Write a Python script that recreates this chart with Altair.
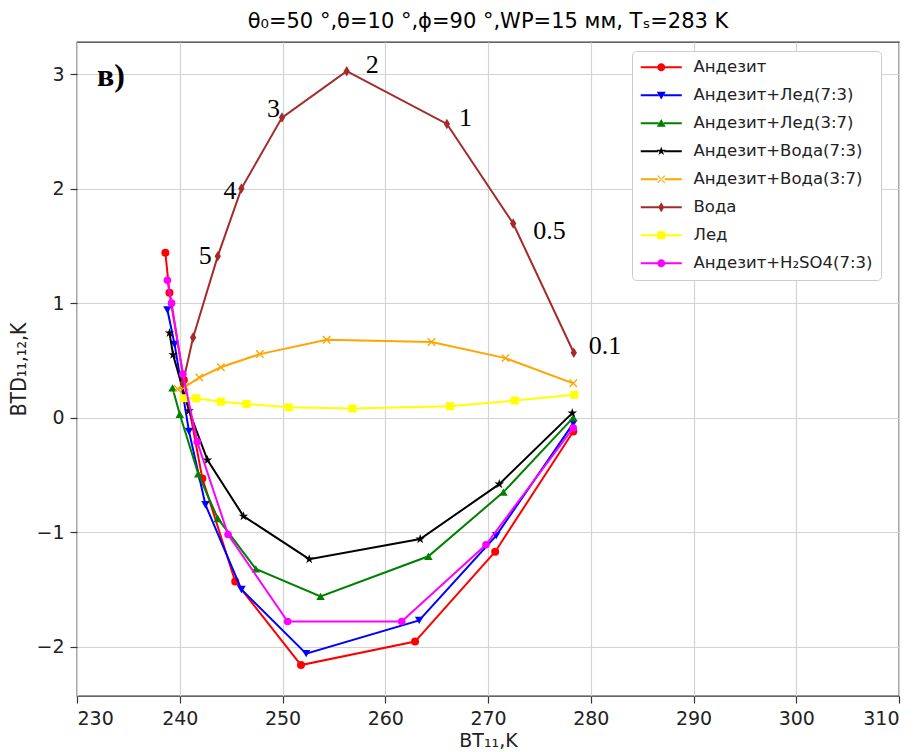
import altair as alt
import pandas as pd

# ---------------- data ----------------
series_names = ["Андезит", "Андезит+Лед(7:3)", "Андезит+Лед(3:7)", "Андезит+Вода(7:3)",
                "Андезит+Вода(3:7)", "Вода", "Лед", "Андезит+H₂SO4(7:3)"]
series_colors = ["#ff0000", "#0000ff", "#008000", "#000000",
                 "#ffa500", "#a52a2a", "#ffff00", "#ff00ff"]

bt_andesite = [238.6, 239.0, 240.4, 242.2, 245.4, 251.8, 262.9, 270.7, 278.3]
btd_andesite = [1.44, 1.09, 0.33, -0.53, -1.43, -2.16, -1.955, -1.17, -0.12]
bt_and_ice73 = [238.8, 239.5, 240.9, 242.5, 246.0, 252.3, 263.3, 270.8, 278.3]
btd_and_ice73 = [0.94, 0.64, -0.12, -0.76, -1.50, -2.06, -1.77, -1.03, -0.05]
bt_and_ice37 = [239.3, 240.0, 241.8, 243.7, 247.4, 253.7, 264.2, 271.5, 278.3]
btd_and_ice37 = [0.26, 0.03, -0.49, -0.88, -1.32, -1.56, -1.21, -0.65, 0.0]
bt_and_water73 = [239.0, 239.35, 240.9, 242.7, 246.2, 252.6, 263.4, 271.1, 278.2]
btd_and_water73 = [0.74, 0.55, 0.06, -0.37, -0.86, -1.235, -1.06, -0.58, 0.04]
bt_and_water37 = [239.8, 240.5, 241.9, 244.0, 247.8, 254.3, 264.5, 271.7, 278.3]
btd_and_water37 = [0.25, 0.27, 0.35, 0.44, 0.555, 0.68, 0.66, 0.52, 0.30]
bt_water = [240.3, 241.3, 243.7, 246.0, 249.95, 256.25, 266.0, 272.45, 278.35]
btd_water = [0.30, 0.70, 1.41, 2.00, 2.62, 3.025, 2.565, 1.695, 0.567]
bt_ice = [240.4, 241.6, 244.0, 246.5, 250.6, 256.8, 266.3, 272.6, 278.4]
btd_ice = [0.17, 0.17, 0.14, 0.12, 0.09, 0.08, 0.10, 0.15, 0.20]
bt_and_h2so4 = [238.8, 239.2, 240.3, 241.7, 244.7, 250.5, 261.6, 269.8, 278.3]
btd_and_h2so4 = [1.20, 1.00, 0.38, -0.21, -1.02, -1.78, -1.78, -1.11, -0.09]

water_wp_labels = ["", "", "5", "4", "3", "2", "1", "0.5", "0.1"]

x_ticks = [230, 240, 250, 260, 270, 280, 290, 300, 310]
y_ticks = [-2, -1, 0, 1, 2, 3]

title_text = "θ₀=50 °,θ=10 °,ϕ=90 °,WP=15 мм, Tₛ=283 K"
panel_label = "в)"
panel_label_bt = 231.95
panel_label_btd = 2.90

# ---------------- build table ----------------
all_bt = [bt_andesite, bt_and_ice73, bt_and_ice37, bt_and_water73,
          bt_and_water37, bt_water, bt_ice, bt_and_h2so4]
all_btd = [btd_andesite, btd_and_ice73, btd_and_ice37, btd_and_water73,
           btd_and_water37, btd_water, btd_ice, btd_and_h2so4]
rows = []
for name, xs, ys in zip(series_names, all_bt, all_btd):
    for i, (xv, yv) in enumerate(zip(xs, ys)):
        rows.append({"series": name, "idx": i, "bt": xv, "btd": yv})
df = pd.DataFrame(rows)

water_df = pd.DataFrame({"bt": bt_water, "btd": btd_water, "label": water_wp_labels})

# ---------------- styles ----------------
STAR = "M0,-1L0.225,-0.309L0.951,-0.309L0.363,0.118L0.588,0.809L0,0.382L-0.588,0.809L-0.363,0.118L-0.951,-0.309L-0.225,-0.309Z"
XMARK = "M-1,-1L1,1M-1,1L1,-1"
THIN_DIAMOND = "M0,-1L0.6,0L0,1L-0.6,0Z"

marker_styles = [
    dict(shape="circle", size=64, filled=True),
    dict(shape="triangle-down", size=72, filled=True),
    dict(shape="triangle-up", size=72, filled=True),
    dict(shape=STAR, size=100, filled=True),
    dict(shape=XMARK, size=56, filled=False, strokeWidth=1.4),
    dict(shape=THIN_DIAMOND, size=110, filled=True),
    dict(shape="square", size=64, filled=True),
    dict(shape="circle", size=58, filled=True),
]

# legend symbols: a line with a marker (unit = sqrt(100)/2 = 5 px)
def seg(gap):
    return f"M-4.1,-0.2H-{gap}V0.2H-4.1Z M{gap},-0.2H4.1V0.2H{gap}Z "

leg_markers = [
    "M-0.8,0A0.8,0.8,0,1,1,0.8,0A0.8,0.8,0,1,1,-0.8,0Z",
    "M-0.9,-0.7L0.9,-0.7L0,0.85Z",
    "M-0.9,0.7L0.9,0.7L0,-0.85Z",
    "M0,-0.95L0.214,-0.294L0.903,-0.294L0.345,0.112L0.559,0.769L0,0.363L-0.559,0.769L-0.345,0.112L-0.903,-0.294L-0.214,-0.294Z",
    "M-0.8,-0.65L0.65,0.8L0.8,0.65L-0.65,-0.8Z M-0.8,0.65L0.65,-0.8L0.8,-0.65L-0.65,0.8Z",
    "M0,-1L0.6,0L0,1L-0.6,0Z",
    "M-0.8,-0.8H0.8V0.8H-0.8Z",
    "M-0.8,0A0.8,0.8,0,1,1,0.8,0A0.8,0.8,0,1,1,-0.8,0Z",
]
leg_gaps = ["0.5", "0.5", "0.5", "0.6", "0.7", "0.3", "0.5", "0.5"]
legend_paths = [seg(g) + m for g, m in zip(leg_gaps, leg_markers)]

color_scale = alt.Scale(domain=series_names, range=series_colors)
x_enc = alt.X("bt:Q", scale=alt.Scale(domain=[230, 310], nice=False, zero=False),
              axis=alt.Axis(title="BT₁₁,K", values=x_ticks, format="d",
                            titlePadding=3))
y_enc = alt.Y("btd:Q", scale=alt.Scale(domain=[-2.43, 3.28], nice=False, zero=False),
              axis=alt.Axis(title="BTD₁₁,₁₂,K", values=y_ticks, format="d",
                            titlePadding=6, titleFontSize=21,
                            titleFont="DejaVu Sans Condensed, Liberation Sans Narrow, DejaVu Sans"))

layers = []
for name, col, st in zip(series_names, series_colors, marker_styles):
    sub = df[df["series"] == name]
    layers.append(
        alt.Chart(sub).mark_line(strokeWidth=2, color=col).encode(
            x=x_enc, y=y_enc, order="idx:Q")
    )
    pkw = dict(shape=st["shape"], size=st["size"], filled=st["filled"], opacity=1, color=col)
    if "strokeWidth" in st:
        pkw["strokeWidth"] = st["strokeWidth"]
    layers.append(
        alt.Chart(sub).mark_point(**pkw).encode(x=x_enc, y=y_enc)
    )

legend = alt.Legend(title=None, orient="none", legendX=555, legendY=9,
                    fillColor="white", strokeColor="#cccccc", cornerRadius=4,
                    padding=8, symbolSize=100, symbolOffset=13, labelOffset=24,
                    symbolOpacity=1, symbolStrokeWidth=0,
                    labelFont="DejaVu Sans", labelFontSize=16.5, labelColor="#222222",
                    rowPadding=11, labelLimit=400)

legend_layer = alt.Chart(df[df["idx"] == 0]).mark_point(filled=True, opacity=0).encode(
    x=x_enc, y=y_enc,
    color=alt.Color("series:N", scale=color_scale, legend=legend),
    shape=alt.Shape("series:N", scale=alt.Scale(domain=series_names, range=legend_paths),
                    legend=legend),
)
layers.append(legend_layer)

# WP annotations for the water curve
ann_styles = {
    "2": dict(align="left", dx=19, dy=-6),
    "1": dict(align="left", dx=12, dy=-6),
    "0.5": dict(align="left", dx=20, dy=7),
    "0.1": dict(align="left", dx=15, dy=-7),
    "3": dict(align="right", dx=-2, dy=-9),
    "4": dict(align="right", dx=-5, dy=2),
    "5": dict(align="right", dx=-6, dy=0),
}
for lab, st in ann_styles.items():
    layers.append(
        alt.Chart(water_df[water_df["label"] == lab]).mark_text(
            font="Liberation Serif", fontSize=26, baseline="middle", color="black", **st
        ).encode(x=x_enc, y=y_enc, text="label:N")
    )

panel_df = pd.DataFrame({"bt": [panel_label_bt], "btd": [panel_label_btd], "t": [panel_label]})
layers.append(
    alt.Chart(panel_df).mark_text(font="Liberation Serif", fontSize=32, fontWeight="bold",
                                  align="left", baseline="alphabetic", color="black").encode(
        x=x_enc, y=y_enc, text="t:N")
)

chart = alt.layer(*layers).properties(
    width=822, height=654,
    title=alt.TitleParams(text=title_text, font="DejaVu Sans", fontSize=21,
                          fontWeight="normal", color="black", anchor="middle", offset=10),
    padding={"left": 77, "top": 42, "right": 21, "bottom": 56},
    autosize=alt.AutoSizeParams(type="none"),
).configure_view(
    stroke="#333333", strokeWidth=1.3
).configure_axis(
    domain=False, grid=True, gridColor="#d3d3d3", gridWidth=1.2,
    tickColor="#333333", tickSize=7, tickWidth=1.2,
    labelFont="DejaVu Sans", labelFontSize=19, labelColor="#222222", labelPadding=6,
    titleFont="DejaVu Sans", titleFontSize=19, titleColor="#222222", titleFontWeight="normal",
)

chart.save("out.html", embed_options={"renderer": "svg", "actions": False})
